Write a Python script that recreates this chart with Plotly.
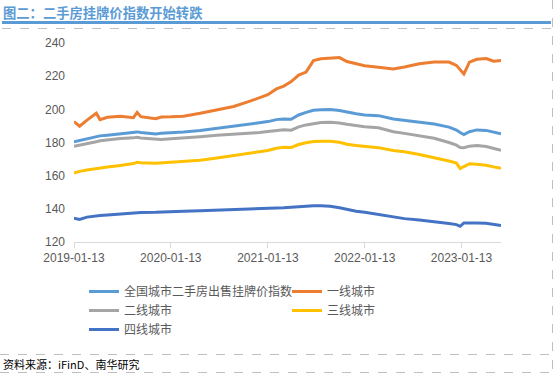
import plotly.graph_objects as go

W, H = 558, 377
L, R, T, B = 74, 57, 43, 135

dates = [
    "2019-01-13", "2019-02-03", "2019-03-03", "2019-04-07", "2019-04-21", "2019-05-19",
    "2019-07-07", "2019-08-25", "2019-09-08", "2019-09-22", "2019-11-17", "2019-12-08",
    "2020-01-13", "2020-03-01", "2020-05-03", "2020-07-05", "2020-09-06", "2020-11-01",
    "2020-12-13", "2021-01-13", "2021-02-14", "2021-03-14", "2021-04-11", "2021-05-09",
    "2021-06-06", "2021-07-04", "2021-08-01", "2021-09-05", "2021-10-10", "2021-11-07",
    "2021-12-12", "2022-01-13", "2022-03-06", "2022-05-01", "2022-06-12", "2022-08-07",
    "2022-10-02", "2022-11-27", "2022-12-25", "2023-01-08", "2023-01-22", "2023-02-12",
    "2023-03-12", "2023-04-16", "2023-05-14", "2023-06-11",
]

national = [
    180.5, 181.2, 182.2, 183.6, 184.0, 184.4, 185.2, 185.8, 186.4, 186.0, 185.2, 185.6,
    185.8, 186.3, 187.3, 188.6, 190.0, 191.2, 191.8, 192.6, 193.8, 194.2, 194.0, 196.6,
    198.2, 199.4, 199.8, 199.9, 199.3, 198.3, 197.3, 196.6, 196.2, 194.2, 193.4, 192.4,
    191.2, 189.3, 187.5, 186.0, 184.8, 186.5, 187.6, 187.3, 186.3, 185.2,
]
tier1 = [
    192.6, 189.8, 193.5, 197.6, 193.8, 195.2, 195.8, 195.0, 198.2, 195.6, 194.4, 195.4,
    195.5, 195.8, 197.6, 199.8, 201.7, 204.6, 206.9, 208.8, 212.3, 214.0, 216.7, 220.7,
    222.5, 229.4, 230.5, 231.0, 231.2, 228.8, 227.5, 226.3, 225.4, 224.4, 225.5, 227.5,
    228.5, 228.5, 226.5, 224.0, 221.3, 228.5, 230.2, 230.6, 229.0, 229.5,
]
tier2 = [
    177.7, 178.3, 179.2, 180.5, 181.0, 181.6, 182.4, 182.8, 183.2, 182.7, 181.8, 181.8,
    182.2, 182.6, 183.4, 184.3, 184.8, 185.5, 186.0, 186.6, 187.4, 187.7, 187.4, 189.4,
    190.6, 191.5, 192.0, 192.2, 191.8, 191.0, 190.2, 189.5, 188.9, 186.5, 185.5, 184.2,
    182.6, 180.0, 178.4, 177.0, 176.9, 177.8, 178.2, 177.6, 176.3, 175.3,
]
tier3 = [
    161.6, 162.6, 163.4, 164.3, 164.7, 165.2, 166.2, 167.3, 168.1, 167.8, 167.5, 167.7,
    168.1, 168.5, 169.3, 170.6, 172.0, 173.2, 174.1, 175.2, 176.5, 177.1, 177.0, 178.8,
    179.8, 180.6, 180.8, 180.7, 180.1, 179.0, 178.2, 177.7, 176.9, 175.2, 174.4, 172.8,
    171.0, 168.8, 167.6, 164.3, 165.5, 167.2, 166.9, 166.3, 165.3, 164.4,
]
tier4 = [
    134.3, 133.6, 135.0, 135.9, 136.0, 136.3, 136.9, 137.5, 137.9, 137.8, 137.9, 138.1,
    138.4, 138.6, 138.8, 139.1, 139.5, 139.9, 140.1, 140.3, 140.5, 140.7, 141.0, 141.4,
    141.7, 141.9, 141.9, 141.6, 140.6, 139.6, 138.6, 137.9, 136.5, 134.9, 134.1, 133.2,
    132.4, 131.2, 130.5, 129.5, 131.5, 131.3, 131.4, 131.3, 130.6, 129.9,
]

series_names = ["全国城市二手房出售挂牌价指数", "一线城市", "二线城市", "三线城市", "四线城市"]
series_values = [national, tier1, tier2, tier3, tier4]
series_colors = ["#5B9BD5", "#ED7D31", "#A5A5A5", "#FFC000", "#4472C4"]

xtick_vals = ["2019-01-13", "2020-01-13", "2021-01-13", "2022-01-13", "2023-01-13"]
ytick_vals = [120, 140, 160, 180, 200, 220, 240]

title_text = "图二：二手房挂牌价指数开始转跌"
source_text = "资料来源：iFinD、南华研究"

pw = W - L - R
ph = H - T - B


def pxx(x):
    return (x - L) / pw


def pxy(y):
    return (T + ph - y) / ph


fig = go.Figure()
for name, vals, col in zip(series_names, series_values, series_colors):
    fig.add_trace(go.Scatter(x=dates, y=vals, name=name, mode="lines",
                             line=dict(color=col, width=3)))

tick_font = dict(family="Liberation Sans, Arial, sans-serif", size=12, color="#595959")

fig.update_layout(
    width=W, height=H,
    margin=dict(l=L, r=R, t=T, b=B, pad=0, autoexpand=False),
    paper_bgcolor="white", plot_bgcolor="white",
    showlegend=True,
    legend=dict(
        orientation="h", x=pxx(84), xanchor="left", y=pxy(277), yanchor="top",
        entrywidth=158, entrywidthmode="pixels",
        font=dict(family="Noto Sans CJK SC, sans-serif", size=12, color="#595959"),
        bgcolor="rgba(0,0,0,0)", tracegroupgap=0, itemwidth=30,
    ),
    xaxis=dict(
        type="date", range=["2019-01-13", "2023-06-11"],
        tickvals=xtick_vals, ticktext=xtick_vals,
        showgrid=False, zeroline=False,
        showline=True, linecolor="#D9D9D9", linewidth=1,
        ticks="outside", ticklen=5, tickcolor="#D9D9D9",
        tickfont=tick_font, automargin=False,
    ),
    yaxis=dict(
        range=[120, 240], tickvals=ytick_vals,
        showgrid=False, zeroline=False, showline=False, ticks="",
        tickfont=tick_font, ticklabelstandoff=8, automargin=False,
    ),
)

shapes = [
    dict(type="line", xref="paper", yref="paper", x0=pxx(2), x1=pxx(551), y0=pxy(22.5), y1=pxy(22.5),
         line=dict(color="#5B9BD5", width=3)),
    dict(type="line", xref="paper", yref="paper", x0=pxx(2), x1=pxx(552), y0=pxy(28.5), y1=pxy(28.5),
         line=dict(color="#BFBFBF", width=1, dash="dash")),
    dict(type="line", xref="paper", yref="paper", x0=pxx(552.5), x1=pxx(552.5), y0=pxy(0), y1=pxy(377),
         line=dict(color="#BFBFBF", width=1, dash="dash")),
    dict(type="line", xref="paper", yref="paper", x0=pxx(0), x1=pxx(552), y0=pxy(354.5), y1=pxy(354.5),
         line=dict(color="#BFBFBF", width=1, dash="dash")),
    dict(type="line", xref="paper", yref="paper", x0=pxx(0), x1=pxx(552), y0=pxy(372.5), y1=pxy(372.5),
         line=dict(color="#BFBFBF", width=1, dash="dash")),
]
fig.update_layout(shapes=shapes)

fig.add_annotation(text="<b>" + title_text + "</b>", xref="paper", yref="paper",
                   x=pxx(1), y=pxy(12), xanchor="left", yanchor="middle", showarrow=False,
                   font=dict(family="Noto Sans CJK SC, sans-serif", size=13.3, color="#5B9BD5"))
fig.add_annotation(text=source_text, xref="paper", yref="paper",
                   x=pxx(1), y=pxy(363.5), xanchor="left", yanchor="middle", showarrow=False,
                   font=dict(family="Noto Sans CJK SC, sans-serif", size=11, color="#000000"))

fig.write_html("out.html", config={"displayModeBar": False},
               post_script="document.body.style.margin='0';")
